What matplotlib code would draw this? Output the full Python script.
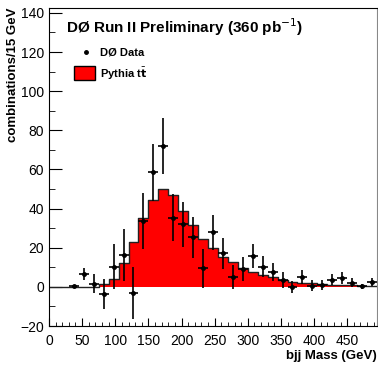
import numpy as np
import matplotlib.pyplot as plt
from matplotlib.ticker import MultipleLocator

plt.rcParams['font.family'] = ['Liberation Sans', 'DejaVu Sans']

# bin edges 0..495 GeV, 15 GeV wide
edges = np.arange(0, 496, 15)

# Pythia ttbar expectation per bin
mc = [0, 0, 0, 0, 0, 1.4, 4.1, 12.1, 23.1, 35.2, 44.4, 50.1, 46.7, 38.6,
      31.6, 24.5, 19.8, 15.5, 12.5, 9.6, 7.5, 6.3, 5.0, 3.6, 2.7, 2.2,
      1.9, 1.5, 1.2, 1.0, 0.8, 0.6, 0.5]

# data points (bin centres)
data_x = [37.5, 52.5, 67.5, 82.5, 97.5, 112.5, 127.5, 142.5, 157.5, 172.5,
          187.5, 202.5, 217.5, 232.5, 247.5, 262.5, 277.5, 292.5, 307.5,
          322.5, 337.5, 352.5, 367.5, 382.5, 397.5, 412.5, 427.5, 442.5,
          457.5, 472.5, 487.5]
data_y = [0.2, 6.5, 1.7, -3.7, 10.4, 16.2, -3.2, 33.5, 58.6, 72.0,
          35.4, 32.1, 25.3, 9.4, 27.9, 17.1, 5.0, 9.2, 15.9,
          10.4, 7.5, 3.6, -0.2, 5.0, 0.5, 0.9, 3.6, 4.5,
          2.2, 0.2, 2.4]
data_err = [0.0, 3.2, 4.9, 7.7, 11.5, 13.4, 13.4, 14.4, 14.5, 14.5,
            12.0, 11.5, 10.3, 10.0, 9.0, 8.0, 6.2, 6.2, 6.2,
            5.5, 4.7, 4.0, 3.0, 3.4, 2.8, 2.7, 2.9, 3.0,
            2.3, 1.2, 2.1]

fig = plt.figure(figsize=(3.78, 3.70), dpi=100)
ax = fig.add_axes([0.1296, 0.1189, 0.8677, 0.8595])

mc_steps = np.append(mc, mc[-1])
ax.fill_between(edges, 0, mc_steps, step='post', color='#ff0000', lw=0)
ax.step(edges, mc_steps, where='post', color='#222222', lw=1.0)

ax.errorbar(data_x, data_y, xerr=7.5, yerr=data_err, fmt='o', ms=2.5,
            color='black', ecolor='black', elinewidth=1.2, capsize=0)

ax.set_xlim(0, 495)
ax.set_ylim(-20, 142.5)
ax.xaxis.set_major_locator(MultipleLocator(50))
ax.xaxis.set_minor_locator(MultipleLocator(10))
ax.yaxis.set_major_locator(MultipleLocator(20))
ax.yaxis.set_minor_locator(MultipleLocator(10))
ax.tick_params(which='both', direction='in', top=False, right=False,
               labelsize=10)
ax.tick_params(axis='y', which='major', length=9)
ax.tick_params(axis='y', which='minor', length=4.5)
ax.tick_params(axis='x', which='major', length=6)
ax.tick_params(axis='x', which='minor', length=3)
ax.tick_params(axis='x', pad=6)
ax.spines['right'].set_color('#888888')

ax.set_xlabel('bjj Mass (GeV)', fontweight='bold', fontsize=9.5,
              loc='right', labelpad=1)
ax.set_ylabel('combinations/15 GeV', fontweight='bold', fontsize=9.5,
              loc='top', labelpad=1)

ax.text(0.052, 0.94, 'DØ Run II Preliminary (360 pb$^{-1}$)',
        transform=ax.transAxes, fontsize=11, fontweight='bold',
        va='center', ha='left')

# legend drawn by hand to mimic the ROOT box
ax.plot([56], [120], 'o', ms=2.5, color='black')
ax.text(77, 120, 'DØ Data', fontsize=8, fontweight='bold', va='center')
ax.add_patch(plt.Rectangle((38, 105.6), 31.5, 7.2, facecolor='#ff0000',
                           edgecolor='black', lw=1))
ax.text(77, 108.8, r'Pythia t$\bar{\mathbf{t}}$', fontsize=8,
        fontweight='bold', va='center')

fig.savefig('out.png', dpi=100)
